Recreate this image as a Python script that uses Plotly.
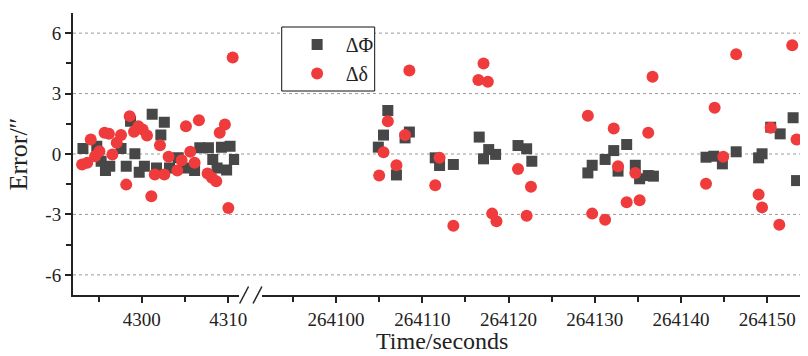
import plotly.graph_objects as go

# ---- data: segment 1 (t ~ 4293..4311 s) ----
phi1_t = [4293.2, 4294.8, 4295.3, 4295.8, 4296.3, 4297.6, 4298.2, 4298.7, 4299.2, 4299.7,
          4300.3, 4301.2, 4301.7, 4302.2, 4302.6, 4303.2, 4304.2, 4305.0, 4306.1, 4306.7,
          4307.7, 4308.2, 4308.7, 4309.2, 4309.8, 4310.2, 4310.7]
phi1_v = [0.27, 0.39, -0.36, -0.82, -0.61, 0.27, -0.61, 1.63, 0.01, -0.91,
          -0.61, 1.97, -0.69, 0.94, 1.58, -0.69, -0.19, -0.69, -0.82, 0.31,
          0.31, -0.27, -0.69, 0.34, -0.80, 0.39, -0.27]
del1_t = [4293.1, 4293.7, 4294.1, 4294.6, 4295.1, 4295.7, 4296.2, 4296.6, 4297.1, 4297.6,
          4298.2, 4298.6, 4299.1, 4299.6, 4300.1, 4300.6, 4301.1, 4301.5, 4302.1, 4302.6,
          4303.1, 4304.1, 4304.6, 4305.1, 4305.6, 4306.1, 4306.6, 4307.6, 4308.1, 4308.6,
          4309.0, 4309.6, 4310.0, 4310.5]
del1_v = [-0.52, -0.44, 0.72, -0.11, 0.14, 1.05, 1.00, -0.02, 0.56, 0.94,
          -1.52, 1.88, 1.10, 1.38, 1.22, 0.92, -2.10, -1.02, 0.44, -1.02,
          -0.14, -0.82, -0.31, 1.38, 0.11, -0.44, 1.67, -0.97, -1.18, -1.35,
          1.05, 1.47, -2.68, 4.79]

# ---- data: segment 2 (t ~ 264104..264154 s) ----
phi2_t = [264104.9, 264105.5, 264106.0, 264107.0, 264108.0, 264108.5, 264111.5, 264112.0,
          264113.6, 264116.6, 264117.1, 264117.7, 264118.5, 264121.1, 264122.1, 264122.7,
          264129.2, 264129.7, 264131.2, 264132.2, 264132.7, 264133.7, 264134.7, 264135.2,
          264136.2, 264136.8, 264142.9, 264143.8, 264144.8, 264146.4, 264149.0, 264149.4,
          264150.4, 264151.5, 264153.0, 264153.4]
phi2_v = [0.34, 0.94, 2.16, -1.04, 0.80, 1.09, -0.19, -0.57,
          -0.52, 0.84, -0.24, 0.22, -0.02, 0.42, 0.26, -0.36,
          -0.94, -0.56, -0.27, 0.17, -0.85, 0.47, -0.56, -1.23,
          -1.07, -1.10, -0.16, -0.11, -0.49, 0.11, -0.19, 0.01,
          1.33, 1.00, 1.80, -1.32]
del2_t = [264105.0, 264105.5, 264106.0, 264107.0, 264108.0, 264108.5, 264111.5, 264112.0,
          264113.6, 264116.5, 264117.1, 264117.6, 264118.1, 264118.6, 264121.1, 264122.1,
          264122.6, 264129.2, 264129.7, 264131.2, 264132.2, 264132.7, 264133.7, 264134.7,
          264135.2, 264136.2, 264136.7, 264142.9, 264143.9, 264144.9, 264146.4, 264149.0,
          264149.4, 264150.4, 264151.4, 264152.9, 264153.4]
del2_v = [-1.07, 0.09, 1.63, -0.56, 0.94, 4.15, -1.55, -0.19,
          -3.56, 3.67, 4.49, 3.59, -2.96, -3.34, -0.74, -3.06,
          -1.63, 1.90, -2.96, -3.26, 1.27, -0.61, -2.40, -0.94,
          -2.30, 1.05, 3.84, -1.48, 2.30, -0.14, 4.95, -2.01,
          -2.65, 1.30, -3.51, 5.40, 0.72]

y_ticks = [-6, -3, 0, 3, 6]
y_ticktext = ["-6", "-3", "0", "3", "6"]
x1_ticks = [4300, 4310]
x2_ticks = [264100, 264110, 264120, 264130, 264140, 264150]
x1_range = [4292.05, 4311.25]
x2_range = [264091.4, 264153.8]
y_range = [-7, 7]

SQ_COLOR = "#474747"
CI_COLOR = "#EF3B3B"
FONT = "Liberation Serif"
INK = "#222222"

W, H = 808, 356
ML, MR, MT, MB = 73, 0, 13, 61
PW = W - ML - MR
PH = H - MT - MB
def px2paper_x(px):
    return (px - ML) / PW
def px2paper_y(py):
    return (H - MB - py) / PH

d1_end = px2paper_x(241)
d2_start = px2paper_x(264)

fig = go.Figure()
sq = dict(symbol="square", size=11, color=SQ_COLOR)
ci = dict(symbol="circle", size=12, color=CI_COLOR)

fig.add_trace(go.Scatter(x=phi1_t, y=phi1_v, mode="markers", marker=sq, name="ΔΦ",
                         xaxis="x", yaxis="y", legendgroup="a"))
fig.add_trace(go.Scatter(x=phi2_t, y=phi2_v, mode="markers", marker=sq, name="ΔΦ",
                         xaxis="x2", yaxis="y", legendgroup="a", showlegend=False))
fig.add_trace(go.Scatter(x=del1_t, y=del1_v, mode="markers", marker=ci, name="Δδ",
                         xaxis="x", yaxis="y", legendgroup="b"))
fig.add_trace(go.Scatter(x=del2_t, y=del2_v, mode="markers", marker=ci, name="Δδ",
                         xaxis="x2", yaxis="y", legendgroup="b", showlegend=False))

# dashed horizontal grid across the whole plot (through the break)
for yv in y_ticks:
    fig.add_shape(type="line", xref="paper", yref="y", x0=0, x1=1, y0=yv, y1=yv,
                  line=dict(color="#9a9a9a", width=1, dash="3px,3px"), layer="below")

# axis-break marks
for (xa, xb) in [(241.5, 250.5), (255, 264)]:
    fig.add_shape(type="line", xref="paper", yref="paper",
                  x0=px2paper_x(xa), x1=px2paper_x(xb),
                  y0=px2paper_y(303.5), y1=px2paper_y(286.5),
                  line=dict(color=INK, width=1.5))

# legend frame
fig.add_shape(type="rect", xref="paper", yref="paper",
              x0=px2paper_x(284), x1=px2paper_x(378), y0=px2paper_y(91), y1=px2paper_y(27),
              line=dict(color="#111111", width=1), fillcolor="white", layer="above")

axis_common = dict(showgrid=False, zeroline=False, showline=True, linecolor=INK,
                   linewidth=2, ticks="outside", ticklen=6, tickwidth=1.5, tickcolor=INK,
                   tickfont=dict(family=FONT, size=19, color=INK))

fig.update_layout(
    width=W, height=H,
    margin=dict(l=ML, r=MR, t=MT, b=MB, pad=0),
    paper_bgcolor="white", plot_bgcolor="white",
    showlegend=True,
    xaxis=dict(domain=[0, d1_end], range=x1_range, tickmode="array", tickvals=x1_ticks,
               tickformat="d",
               minor=dict(dtick=5, tick0=0, ticks="outside", ticklen=5, tickcolor=INK),
               anchor="y", **axis_common),
    xaxis2=dict(domain=[d2_start, 1], range=x2_range, tickmode="array", tickvals=x2_ticks,
                tickformat="d",
                minor=dict(dtick=5, tick0=0, ticks="outside", ticklen=5, tickcolor=INK),
                anchor="y", **axis_common),
    yaxis=dict(domain=[0, 1], range=y_range, tickmode="array", tickvals=y_ticks,
               ticktext=y_ticktext,
               minor=dict(dtick=1.5, tick0=0, ticks="outside", ticklen=5, tickcolor=INK),
               title=dict(text="Error/″", font=dict(family=FONT, size=26, color=INK),
                          standoff=10),
               **axis_common),
    legend=dict(x=px2paper_x(291), y=px2paper_y(25), xanchor="left", yanchor="top",
                bgcolor="rgba(0,0,0,0)", borderwidth=0,
                font=dict(family=FONT, size=20, color=INK),
                tracegroupgap=0, itemwidth=47),
    annotations=[dict(text="Time/seconds", xref="paper", yref="paper",
                      x=px2paper_x(446), y=px2paper_y(341), xanchor="center", yanchor="middle",
                      showarrow=False, font=dict(family=FONT, size=24, color=INK))],
)

fig.write_html("out.html")
